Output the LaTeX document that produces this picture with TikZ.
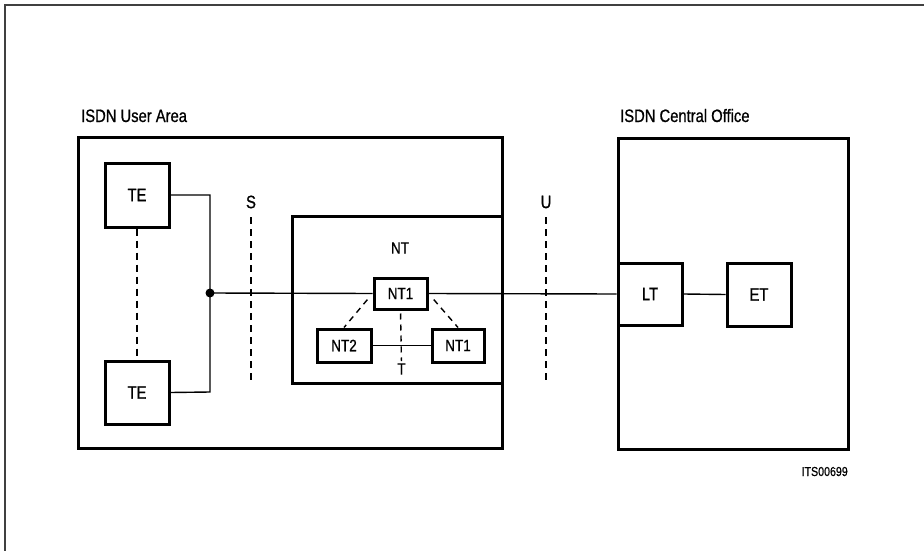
\documentclass[tikz,border=0pt]{standalone}
\usepackage{fontspec}
\setmainfont[FakeStretch=0.82,FakeBold=0.8]{Liberation Sans}
\begin{document}
\begin{tikzpicture}[x=1pt,y=-1pt,
  blk/.style={draw,line width=3pt,fill=white,inner sep=0pt,font=\fontsize{18}{20}\selectfont},
  ntblk/.style={draw,line width=3pt,fill=white,inner sep=0pt,font=\fontsize{16.5}{18}\selectfont},
  area/.style={line width=3pt},
  wire/.style={line width=1.4pt},
  dsh/.style={line width=1.4pt,dash pattern=on 7pt off 5pt},
  lbl/.style={inner sep=0pt,font=\fontsize{18}{20}\selectfont},
  frame/.style={line width=1.6pt,black!75}]
\useasboundingbox (0,0) rectangle (924,551);
% outer frame
\draw[frame] (5,551) -- (5,5) -- (924,5);
% headers
\node[lbl,anchor=base west] (hua) at (81,122) {ISDN User Area};
\node[lbl,anchor=base west] (hco) at (620,122) {ISDN Central Office};
\node[inner sep=0pt,anchor=base east,font=\fontsize{13}{14}\selectfont] (its) at (848,476) {ITS00699};
% areas
\draw[area] (78,137) rectangle (502,448);
\draw[area] (292,216) rectangle (502,383);
\draw[area] (618,138) rectangle (848,449);
% reference points labels
\node[lbl] (s) at (251,202) {S};
\node[lbl] (u) at (546,202) {U};
\node[inner sep=0pt,font=\fontsize{16.5}{18}\selectfont] (nt) at (400,248) {NT};
\coordinate (s1) at (251,217); \coordinate (s2) at (251,382);
\coordinate (u1) at (546,217); \coordinate (u2) at (546,383);
\draw[dsh] (s1) -- (s2);
\draw[dsh] (u1) -- (u2);
% nodes
\node[blk,minimum width=64pt,minimum height=64pt] (teA) at (137,195) {TE};
\node[blk,minimum width=64pt,minimum height=63pt] (teB) at (137,392.5) {TE};
\node[blk,minimum width=64pt,minimum height=62pt] (lt) at (650,294) {LT};
\node[blk,minimum width=64pt,minimum height=63pt] (et) at (759,294.5) {ET};
\coordinate (dot) at (210,293);
\coordinate (busA) at (210,195);
\coordinate (busB) at (210,392);
% wires
\draw[wire] (teA.east) -- (busA) -- (busB) -- (teB.east);
\draw[dsh] (teA.south) -- (teB.north);
\node[ntblk,minimum width=53pt,minimum height=31pt] (nt1) at (400.5,293.5) {NT1};
\node[ntblk,minimum width=54pt,minimum height=33pt] (nt2) at (344,345.5) {NT2};
\node[ntblk,minimum width=52pt,minimum height=33pt] (nt1b) at (458,345.5) {NT1};
\node[inner sep=0pt,font=\fontsize{16.5}{18}\selectfont] (t) at (401.5,369) {T};
\draw[wire] (dot) -- (nt1.west);
\draw[wire] (nt1.east) -- (lt.west);
\draw[wire] (lt.east) -- (et.west);
\draw[wire] (nt2.east) -- (nt1b.west);
\draw[dsh,dash pattern=on 6pt off 5pt,shorten <=3pt,shorten >=2pt] (nt1.south) -- (t.north);
\draw[dsh,dash pattern=on 6pt off 5pt,shorten <=8pt] (nt1.west) -- (nt2.north);
\draw[dsh,dash pattern=on 6pt off 5pt,shorten <=8pt] (nt1.east) -- (nt1b.north);
\fill (dot) circle (4.5pt);
\end{tikzpicture}
\end{document}
